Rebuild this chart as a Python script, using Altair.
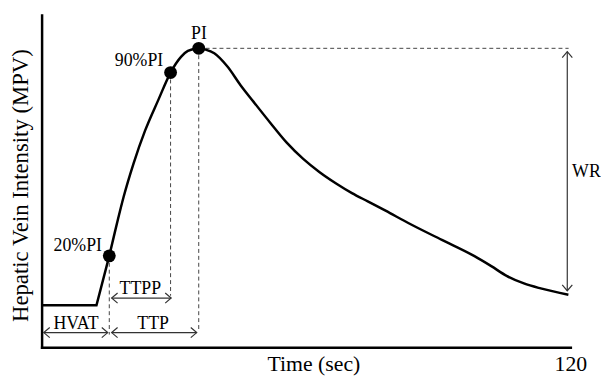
import altair as alt
import pandas as pd

# ---------------- data (time in sec, intensity in arbitrary MPV units) ----------------
# flat baseline, then straight upslope to the 20%PI point (sharp corner at arrival)
onset_t = [0.0, 12.45, 15.36]
onset_v = [12.6, 12.6, 27.5]

# smooth enhancement / washout curve from 20%PI to the end
curve_t = [15.36, 16.76, 18.62, 20.86, 23.48, 26.47, 29.27, 31.69, 33.2, 35.66, 37.23,
           39.19, 42.17, 45.15, 48.16, 51.88, 55.63, 59.37, 63.1, 66.84, 70.43, 74.02,
           78.06, 83.21, 90.84, 98.24, 102.05, 105.64, 109.46, 113.27, 119.55]
curve_v = [27.5, 35.4, 45.3, 55.3, 65.2, 74.4, 82.7, 87.5, 89.2, 90.0, 89.6,
           88.5, 84.5, 78.9, 73.8, 67.6, 61.6, 56.7, 52.7, 49.3, 46.4, 43.9,
           41.1, 37.4, 32.3, 27.4, 24.4, 21.4, 19.2, 17.7, 15.8]

# marked points (20%PI, 90%PI, PI)
point_t = [15.36, 29.27, 35.66]
point_v = [27.5, 82.7, 90.0]

# dashed guide lines
guide_t1 = [15.36, 29.27, 35.66, 35.66]
guide_t2 = [15.36, 29.27, 35.66, 119.6]
guide_v1 = [27.5, 82.7, 90.0, 90.0]
guide_v2 = [3.8, 15.5, 5.0, 90.0]

# horizontal double arrows (HVAT, TTP, TTPP)
harrow_t1 = [0.5, 15.9, 15.9]
harrow_t2 = [15.0, 35.2, 29.4]
harrow_v = [4.4, 4.4, 14.8]

# vertical WR double arrow
wr_t = [119.3]
wr_v1 = [89.0]
wr_v2 = [17.0]

# text labels
center_text = ["PI", "HVAT", "TTP", "TTPP"]
center_t = [35.7, 7.8, 25.3, 22.4]
center_v = [94.4, 7.1, 7.1, 17.6]
right_text = ["20%PI", "90%PI"]
right_t = [13.7, 27.6]
right_v = [30.4, 86.2]
left_text = ["WR"]
left_t = [120.4]
left_v = [52.7]

# ---------------- tables ----------------
onset_df = pd.DataFrame({"t": onset_t, "v": onset_v})
curve_df = pd.DataFrame({"t": curve_t, "v": curve_v})
points_df = pd.DataFrame({"t": point_t, "v": point_v})
guides_df = pd.DataFrame({"t": guide_t1, "t2": guide_t2, "v": guide_v1, "v2": guide_v2})
harrow_df = pd.DataFrame({"t": harrow_t1, "t2": harrow_t2, "v": harrow_v})
wr_df = pd.DataFrame({"t": wr_t, "v": wr_v1, "v2": wr_v2})
heads_df = pd.DataFrame({
    "t": harrow_t1 + harrow_t2 + wr_t + wr_t,
    "v": harrow_v + harrow_v + wr_v1 + wr_v2,
    "dir": ["left"] * 3 + ["right"] * 3 + ["up", "down"],
})
center_df = pd.DataFrame({"t": center_t, "v": center_v, "label": center_text})
right_df = pd.DataFrame({"t": right_t, "v": right_v, "label": right_text})
left_df = pd.DataFrame({"t": left_t, "v": left_v, "label": left_text})

FONT = "Liberation Serif"

xscale = alt.Scale(domain=[0, 120], nice=False, zero=False)
yscale = alt.Scale(domain=[0, 100], nice=False, zero=False)
xaxis = alt.Axis(
    title="Time (sec)", values=[120], ticks=False, tickSize=0, grid=False,
    labelFont=FONT, labelFontSize=22, labelColor="black", labelFlush=False,
    labelPadding=24, labelBaseline="alphabetic",
    titleFont=FONT, titleFontSize=22, titleFontWeight="normal", titleColor="black",
    titleX=275, titleY=24, titleBaseline="alphabetic", titleAlign="center",
    domainColor="black", domainWidth=2.5, domainCap="square",
)
yaxis = alt.Axis(
    title="Hepatic Vein Intensity (MPV)", labels=False, ticks=False, tickSize=0, grid=False,
    titleFont=FONT, titleFontSize=23, titleFontWeight="normal", titleColor="black",
    titleAngle=270, titleX=-14, titleY=172, titleBaseline="alphabetic", titleAlign="center",
    domainColor="black", domainWidth=2.5, domainCap="square",
)


def X(f):
    return alt.X(f, type="quantitative", scale=xscale, axis=xaxis)


def Y(f):
    return alt.Y(f, type="quantitative", scale=yscale, axis=yaxis)


guides = alt.Chart(guides_df).mark_rule(
    color="#444444", strokeWidth=1, strokeDash=[4, 3]
).encode(x=X("t"), x2="t2", y=Y("v"), y2="v2")

harrows = alt.Chart(harrow_df).mark_rule(color="#333333", strokeWidth=1.2).encode(
    x=X("t"), x2="t2", y=Y("v")
)
wr_arrow = alt.Chart(wr_df).mark_rule(color="#333333", strokeWidth=1.2).encode(
    x=X("t"), y=Y("v"), y2="v2"
)
heads = alt.Chart(heads_df).mark_point(
    filled=False, color="#333333", strokeWidth=1.2, size=144, opacity=1
).encode(
    x=X("t"), y=Y("v"),
    shape=alt.Shape("dir:N", legend=None, scale=alt.Scale(
        domain=["left", "right", "up", "down"],
        range=["M1,-0.85L0,0L1,0.85", "M-1,-0.85L0,0L-1,0.85",
               "M-0.85,1L0,0L0.85,1", "M-0.85,-1L0,0L0.85,-1"],
    )),
)

onset = alt.Chart(onset_df).mark_line(color="black", strokeWidth=2.5, interpolate="linear").encode(
    x=X("t"), y=Y("v")
)
curve = alt.Chart(curve_df).mark_line(color="black", strokeWidth=2.5, interpolate="monotone").encode(
    x=X("t"), y=Y("v")
)
points = alt.Chart(points_df).mark_circle(color="black", size=169, opacity=1).encode(
    x=X("t"), y=Y("v")
)

txt = dict(font=FONT, fontSize=18, color="black", baseline="middle")
center_lbl = alt.Chart(center_df).mark_text(align="center", **txt).encode(
    x=X("t"), y=Y("v"), text="label:N")
right_lbl = alt.Chart(right_df).mark_text(align="right", **txt).encode(
    x=X("t"), y=Y("v"), text="label:N")
left_lbl = alt.Chart(left_df).mark_text(align="left", **txt).encode(
    x=X("t"), y=Y("v"), text="label:N")

chart = alt.layer(
    guides, harrows, wr_arrow, heads, onset, curve, points, center_lbl, right_lbl, left_lbl
).properties(
    width=535, height=336,
    padding={"left": 34, "top": 5, "right": 31, "bottom": 31},
    autosize=alt.AutoSizeParams(type="none"),
    background="white",
).configure_view(stroke=None)

chart.save("out.html", embed_options={"renderer": "svg", "actions": False})
